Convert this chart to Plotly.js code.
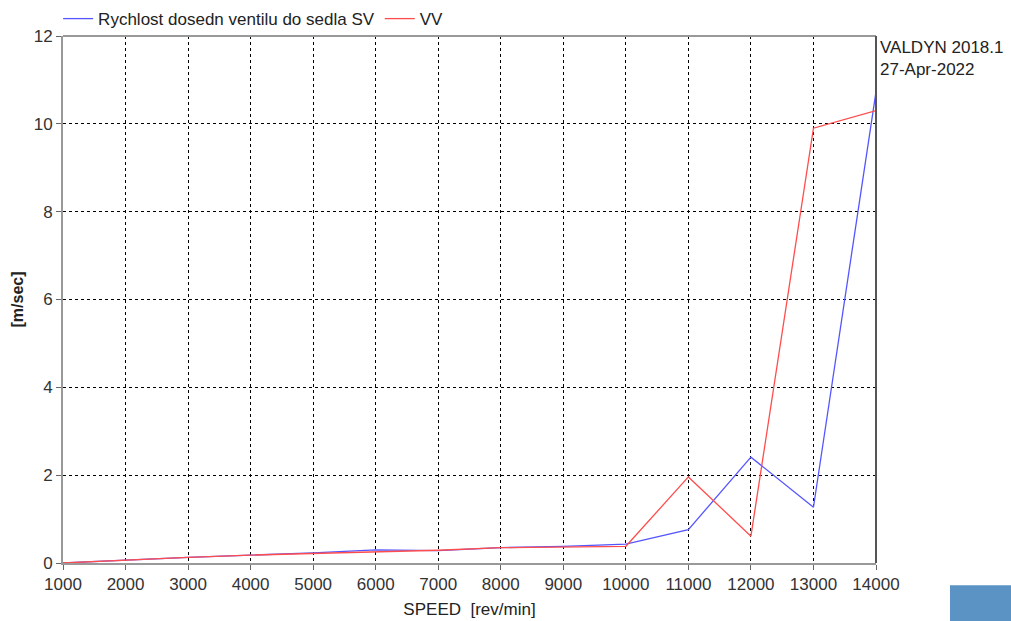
<!DOCTYPE html>
<html><head><meta charset="utf-8">
<script src="https://cdn.plot.ly/plotly-3.0.1.min.js"></script>
<style>body{margin:0;background:#fff}#c{width:1011px;height:621px}</style>
</head><body><div id="c"></div>
<script>
const speed = [1000,2000,3000,4000,5000,6000,7000,8000,9000,10000,11000,12000,13000,14000];
const sv = [0.0,0.07,0.13,0.18,0.23,0.30,0.28,0.35,0.38,0.43,0.76,2.41,1.27,10.73];
const vv = [0.0,0.07,0.13,0.18,0.22,0.26,0.29,0.35,0.37,0.38,1.96,0.61,9.90,10.30];
const xTicks = speed;
const yTicks = [0,2,4,6,8,10,12];
const seriesNames = ['Rychlost dosedn ventilu do sedla SV','VV'];
const font = 'Liberation Sans, Arial, sans-serif';

const traces = [
 {x:speed,y:sv,name:seriesNames[0],mode:'lines',line:{color:'#5555ff',width:1.3}},
 {x:speed,y:vv,name:seriesNames[1],mode:'lines',line:{color:'#ff4d4d',width:1.3}}
];
const layout = {
 width:1011,height:621,
 margin:{l:63,r:135,t:36,b:58,autoexpand:false},
 paper_bgcolor:'#fff',plot_bgcolor:'#fff',
 font:{family:font,size:17,color:'#333'},
 showlegend:true,
 legend:{orientation:'h',x:-0.006,y:0.998,xanchor:'left',yanchor:'bottom',font:{size:17,color:'#222'},itemwidth:30,tracegroupgap:0,bgcolor:'rgba(0,0,0,0)'},
 xaxis:{range:[1000,14000],tickvals:xTicks,ticktext:xTicks.map(String),showgrid:true,gridcolor:'#000',griddash:'dot',gridwidth:1,
   showline:true,linecolor:'#999',linewidth:2,ticks:'outside',ticklen:5,tickcolor:'#666',zeroline:false,mirror:false,
   tickfont:{size:17,color:'#333'},title:{text:'SPEED  [rev/min]',font:{size:17,color:'#222'},standoff:10}},
 yaxis:{range:[0,12],tickvals:yTicks,showgrid:true,gridcolor:'#000',griddash:'dot',gridwidth:1,
   showline:true,linecolor:'#999',linewidth:2,ticks:'outside',ticklen:5,tickcolor:'#666',zeroline:false,
   tickfont:{size:17,color:'#333'},title:{text:'<b>[m/sec]</b>',font:{size:16,color:'#222'},standoff:6}},
 shapes:[
  {type:'line',xref:'paper',yref:'paper',x0:0,x1:1,y0:1,y1:1,line:{color:'#999',width:2}},
  {type:'line',xref:'paper',yref:'paper',x0:1,x1:1,y0:0,y1:1,line:{color:'#555',width:2}},
  {type:'rect',xref:'paper',yref:'paper',x0:1.091,x1:1.17,y0:-0.042,y1:-0.12,fillcolor:'#5b93c4',line:{width:0}}
 ],
 annotations:[
  {xref:'paper',yref:'paper',x:1.003,y:1.0,xanchor:'left',yanchor:'top',showarrow:false,align:'left',
   text:'VALDYN 2018.1<br>27-Apr-2022',font:{size:17,color:'#222'}}
 ]
};
Plotly.newPlot('c',traces,layout,{displayModeBar:false,staticPlot:true});
</script></body></html>
